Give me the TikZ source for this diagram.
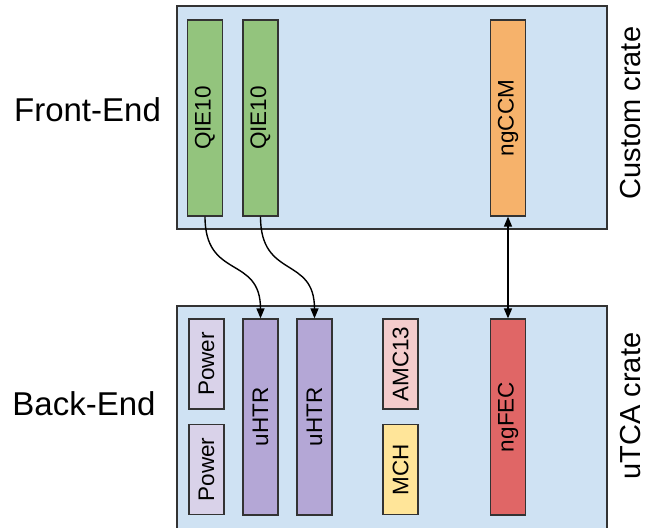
\documentclass[tikz,border=0pt]{standalone}
\usepackage{fontspec}
\setmainfont{Liberation Sans}
\usetikzlibrary{arrows.meta}
\definecolor{crateblue}{HTML}{CFE2F3}
\definecolor{qiegreen}{HTML}{93C47D}
\definecolor{ccmorange}{HTML}{F6B26B}
\definecolor{htrpurple}{HTML}{B4A7D6}
\definecolor{powlilac}{HTML}{D9D2E9}
\definecolor{amcpink}{HTML}{F4CCCC}
\definecolor{mchyellow}{HTML}{FFE599}
\definecolor{fecred}{HTML}{E06666}
\definecolor{edge}{HTML}{333333}
\tikzset{
  crate/.style={fill=crateblue, draw=edge, line width=1.3pt},
  card/.style={draw=edge, line width=1.2pt, rotate=90, minimum width=196pt, minimum height=35pt, inner sep=0pt, font=\fontsize{22.5}{26}\selectfont},
  halfcard/.style={card, minimum width=90pt},
  sidelabel/.style={font=\fontsize{33}{38}\selectfont, anchor=base, inner sep=0pt},
  cratelabel/.style={font=\fontsize{29}{34}\selectfont, anchor=base, rotate=90, inner sep=0pt},
  link/.style={line width=1.4pt, black, -{Triangle[length=10pt,width=8pt]}},
}
\begin{document}
\begin{tikzpicture}[x=1pt,y=-1pt]
\useasboundingbox (0,0) rectangle (647,527);
\clip (0,0) rectangle (647,527);
\fill[white] (0,0) rectangle (647,527);
% crates
\draw[crate] (177,6) rectangle (607,229);
\draw[crate] (177,306) rectangle (607,545);
% front-end cards
\node[card, fill=qiegreen] (q1) at (205,118) {QIE10};
\node[card, fill=qiegreen] (q2) at (260.5,118) {QIE10};
\node[card, fill=ccmorange] (ccm) at (508,118) {ngCCM};
% back-end cards
\node[halfcard, fill=powlilac] (p1) at (206.5,364) {Power};
\node[halfcard, fill=powlilac] (p2) at (206.5,469.5) {Power};
\node[card, fill=htrpurple] (u1) at (260.5,417) {uHTR};
\node[card, fill=htrpurple] (u2) at (314.5,417) {uHTR};
\node[halfcard, fill=amcpink] (amc) at (400.5,364) {AMC13};
\node[halfcard, fill=mchyellow] (mch) at (400.5,469.5) {MCH};
\node[card, fill=fecred] (fec) at (508,417) {ngFEC};
% labels
\node[sidelabel] (fe) at (87.5,121) {Front-End};
\node[sidelabel] (be) at (84,415) {Back-End};
\node[cratelabel] (cc) at (640,113) {Custom crate};
\node[cratelabel] (uc) at (640,406) {uTCA crate};
% connectors
\draw[link] (q1.west) to[out=-90,in=90,looseness=1.4] (u1.east);
\draw[link] (q2.west) to[out=-90,in=90,looseness=1.4] (u2.east);
\draw[link, {Triangle[length=10pt,width=8pt]}-{Triangle[length=10pt,width=8pt]}] (ccm.west) -- (fec.east);
\end{tikzpicture}
\end{document}
